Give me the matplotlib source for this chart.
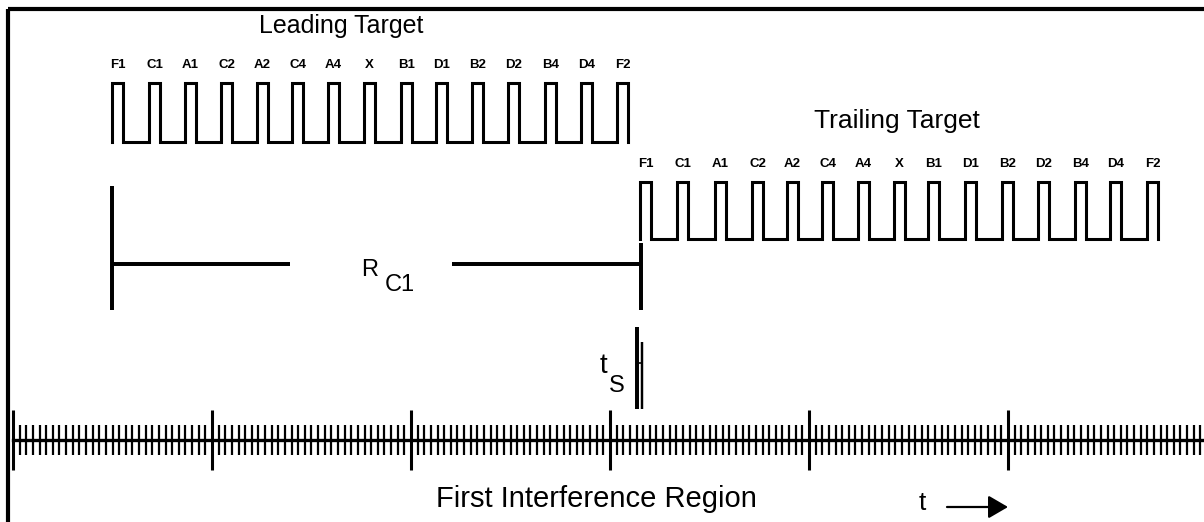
import numpy as np
import matplotlib.pyplot as plt
from matplotlib.ticker import MultipleLocator

# pulse labels (same code sequence for both targets)
lead_labels = ["F1", "C1", "A1", "C2", "A2", "C4", "A4", "X",
               "B1", "D1", "B2", "D2", "B4", "D4", "F2"]
trail_labels = ["F1", "C1", "A1", "C2", "A2", "C4", "A4", "X",
                "B1", "D1", "B2", "D2", "B4", "D4", "F2"]

# pulse rise positions (pixel units)
lead_starts = [112, 149, 185, 221, 257, 292, 328, 364,
               401, 436, 472, 508, 545, 581, 617]
trail_starts = [640, 677, 715, 752, 787, 822, 858, 894,
                928, 965, 1002, 1038, 1075, 1110, 1147]
pulse_width = 11

# levels (high, low)
lead_levels = (83, 142)
trail_levels = (182, 239)

# timeline
major_px = 199          # pixels per major division
minor_per_major = 30
tl_left, tl_y = 13, 440

FONT = ["Liberation Sans Narrow", "Liberation Sans", "DejaVu Sans"]
LW = 2.2


def pulse_train(starts, width, high, low):
    xs, ys = [], []
    for s in starts:
        xs += [s, s, s + width, s + width]
        ys += [low, high, high, low]
    return xs, ys


fig = plt.figure(figsize=(12.04, 5.22), dpi=100)
ax = fig.add_axes([0, 0, 1, 1])
ax.set_xlim(0, 1204)
ax.set_ylim(522, 0)
ax.axis("off")

# frame (top and left)
ax.plot([8, 1204], [9, 9], color="k", lw=3, solid_capstyle="butt")
ax.plot([8, 8], [9, 522], color="k", lw=3, solid_capstyle="butt")

# pulse trains + labels
for starts, labels, (hi, lo) in [(lead_starts, lead_labels, lead_levels),
                                  (trail_starts, trail_labels, trail_levels)]:
    xs, ys = pulse_train(starts, pulse_width, hi, lo)
    ax.plot(xs, ys, color="k", lw=LW, solid_joinstyle="miter")
    for s, lab in zip(starts, labels):
        ax.text(s + pulse_width / 2, hi - 18, lab, ha="center", va="center",
                fontsize=9.5, fontweight="bold", family=FONT)

ax.text(341, 33, "Leading Target", ha="center", va="baseline",
        fontsize=18, family=FONT)
ax.text(897, 128, "Trailing Target", ha="center", va="baseline",
        fontsize=19, family=FONT)

# R_C1 range marker
ax.vlines(112, 186, 310, color="k", lw=LW * 1.3)
ax.vlines(641, 243, 310, color="k", lw=LW * 1.3)
ax.hlines(264, 112, 290, color="k", lw=LW * 1.3)
ax.hlines(264, 452, 641, color="k", lw=LW * 1.3)
ax.text(370, 276, "R", ha="center", va="baseline", fontsize=17, family=FONT)
ax.text(400, 291, "C1", ha="center", va="baseline", fontsize=17, family=FONT)

# t_s marker
ax.vlines(637, 327, 409, color="k", lw=LW * 1.3)
ax.vlines(642, 342, 409, color="k", lw=LW * 0.8)
ax.hlines(363, 637, 642, color="k", lw=1.2)
ax.text(603, 373, "t", ha="center", va="baseline", fontsize=20, family=FONT)
ax.text(617, 392, "S", ha="center", va="baseline", fontsize=17, family=FONT)

# bottom texts
ax.text(596, 499, "First Interference Region", ha="center", va="center",
        fontsize=21, family=FONT)
ax.text(922, 503, "t", ha="center", va="center", fontsize=19, family=FONT)
ax.annotate("", xy=(1008, 507), xytext=(947, 507),
            arrowprops=dict(arrowstyle="-|>,head_length=0.6,head_width=0.35",
                            mutation_scale=20, color="k", lw=1.6,
                            shrinkA=0, shrinkB=0))

# timeline as a real axis with major/minor ticks
W, H = 1204.0, 522.0
tl = fig.add_axes([tl_left / W, (H - tl_y) / H, (W - tl_left) / W, 0.0001])
tl.set_xlim(0, (W - tl_left) / major_px)
tl.patch.set_visible(False)
for side in ["top", "left", "right"]:
    tl.spines[side].set_visible(False)
tl.spines["bottom"].set_linewidth(2.4)
tl.set_yticks([])
tl.xaxis.set_major_locator(MultipleLocator(1))
tl.xaxis.set_minor_locator(MultipleLocator(1 / minor_per_major))
tl.tick_params(axis="x", which="major", direction="inout", length=43,
               width=2.2, labelbottom=False)
tl.tick_params(axis="x", which="minor", direction="inout", length=21,
               width=1.6)

fig.savefig("out.png", dpi=100)
